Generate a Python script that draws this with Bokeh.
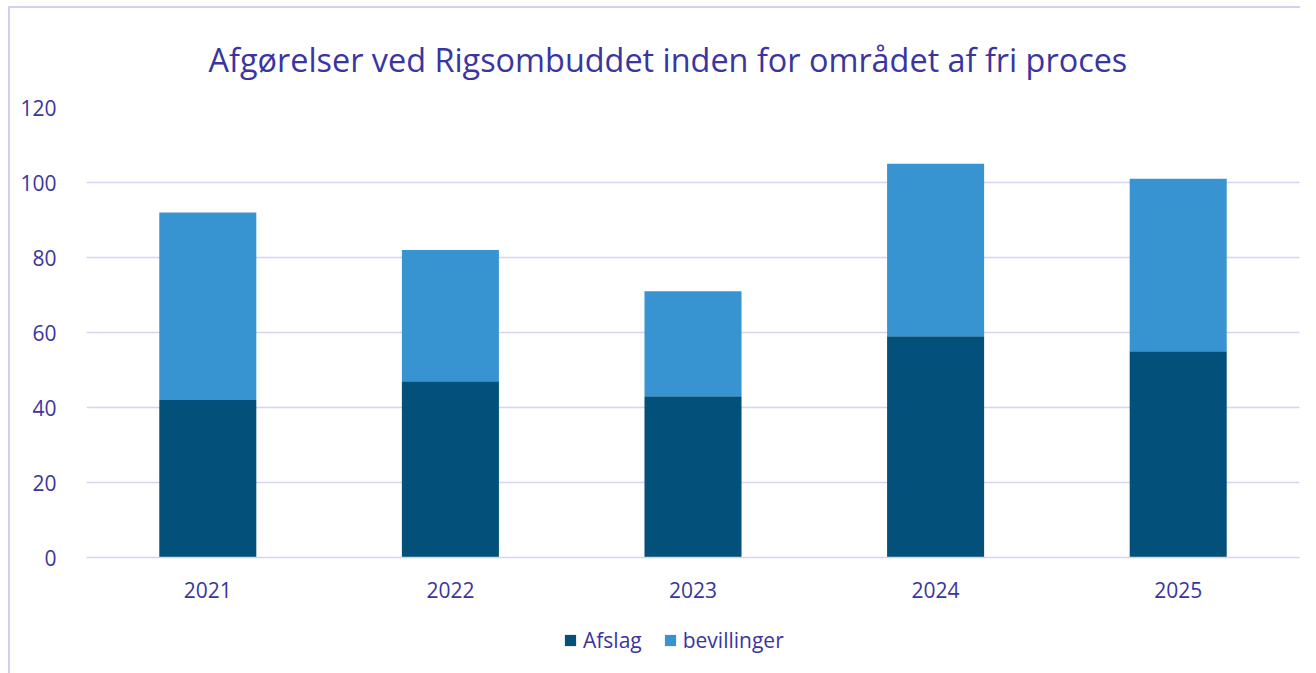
from bokeh.plotting import figure
from bokeh.models import Legend, LegendItem, FixedTicker
from bokeh.layouts import column
from bokeh.embed import file_html
from bokeh.resources import INLINE

years = ["2021", "2022", "2023", "2024", "2025"]
afslag = [42, 47, 43, 59, 55]
bevillinger = [50, 35, 28, 46, 46]
y_ticks = [0, 20, 40, 60, 80, 100, 120]
series_labels = ["Afslag", "bevillinger"]

TEXT = "#3A35A0"
GRID = "#D6D2F1"
DARK = "#03507A"
LIGHT = "#3894D0"
FONT = "Open Sans"

p = figure(x_range=years, y_range=(0, 120), width=1290, height=599,
           output_backend="svg", toolbar_location=None,
           title="Afgørelser ved Rigsombuddet inden for området af fri proces",
           min_border_left=76, min_border_right=1, min_border_top=99, min_border_bottom=50)
p.x_range.range_padding = 0

src = dict(years=years, Afslag=afslag, bevillinger=bevillinger)
rs = p.vbar_stack(series_labels, x="years", width=0.4, color=[DARK, LIGHT],
                  line_color=None, source=src)

p.title.text_font = FONT
p.title.text_font_size = "32.4px"
p.title.text_font_style = "normal"
p.title.text_color = TEXT
p.title.align = "left"
p.title.offset = 122
p.title.standoff = 53

p.outline_line_color = None
p.background_fill_color = "white"
p.border_fill_color = "white"

p.xgrid.grid_line_color = None
p.ygrid.grid_line_color = GRID
p.ygrid.grid_line_width = 1.5
p.yaxis.ticker = FixedTicker(ticks=y_ticks)

for ax in (p.xaxis[0], p.yaxis[0]):
    ax.major_tick_line_color = None
    ax.minor_tick_line_color = None
    ax.major_label_text_font = FONT
    ax.major_label_text_font_size = "21px"
    ax.major_label_text_color = TEXT
p.yaxis.axis_line_color = None
p.yaxis.major_label_standoff = 24
p.xaxis.axis_line_color = GRID
p.xaxis.axis_line_width = 1.5
p.xaxis.major_label_standoff = 18

# legend strip below the chart (its frame is aligned with the chart frame)
lg = figure(width=1290, height=66, x_range=(0, 1), y_range=(0, 1),
            output_backend="svg", toolbar_location=None,
            min_border_left=0, min_border_right=0, min_border_top=0, min_border_bottom=0)
lg.axis.visible = False
lg.grid.visible = False
lg.outline_line_color = None
lg.border_fill_color = "white"
lr = [lg.vbar(x=[0.5], top=[0], bottom=[0], width=0, fill_color=c, line_color=None)
      for c in (DARK, LIGHT)]
legend = Legend(items=[LegendItem(label=series_labels[0], renderers=[lr[0]]),
                       LegendItem(label=series_labels[1], renderers=[lr[1]])],
                orientation="horizontal", location=(477, 19),
                label_text_font=FONT, label_text_font_size="21px", label_text_color=TEXT,
                glyph_width=14, glyph_height=14, spacing=21, label_standoff=6,
                border_line_color=None, background_fill_alpha=0, margin=0, padding=0)
lg.add_layout(legend)

layout = column(p, lg, spacing=0,
                styles={"margin-left": "8px", "margin-top": "6px",
                        "border-left": "2px solid #D3CFEF", "border-top": "2px solid #D3CFEF"})

open("out.html", "w").write(file_html(layout, INLINE))
